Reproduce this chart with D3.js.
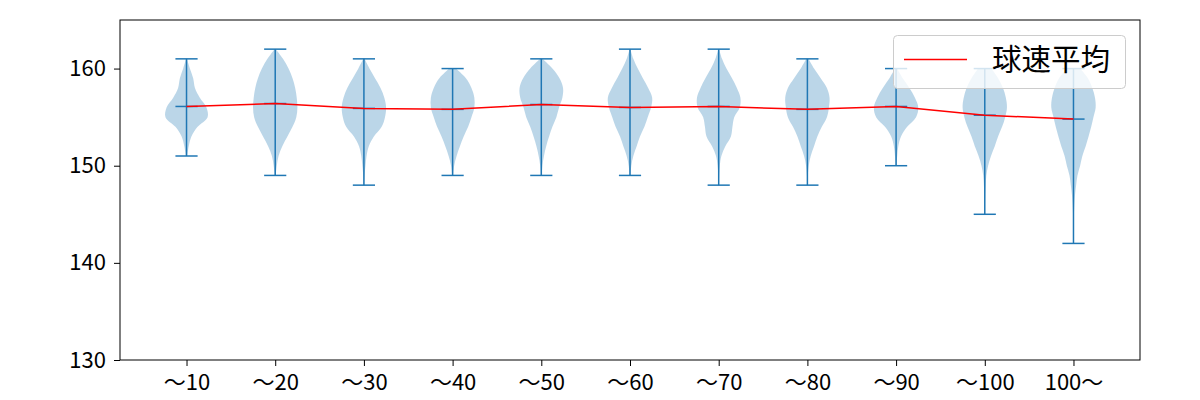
<!DOCTYPE html>
<html>
<head>
<meta charset="utf-8">
<script src="https://cdn.jsdelivr.net/npm/d3@7"></script>
<style>
  html, body { margin: 0; padding: 0; background: #fff; }
  svg { display: block; }
  text { font-family: "Noto Sans CJK JP", "Noto Sans", sans-serif; }
</style>
</head>
<body>
<svg id="chart" width="1200" height="400"></svg>
<script>
// ---- data ----
const categories = ["〜10", "〜20", "〜30", "〜40", "〜50", "〜60", "〜70", "〜80", "〜90", "〜100", "100〜"];
const mins  = [151, 149, 148, 149, 149, 149, 148, 148, 150, 145, 142];
const maxs  = [161, 162, 161, 160, 161, 162, 162, 161, 160, 160, 160];
const means = [156.1, 156.4, 155.9, 155.8, 156.3, 156.0, 156.1, 155.8, 156.1, 155.2, 154.8];
// relative density profile of each violin, at every 1 km/h from min (first) to max (last)
const density10  = [0.03, 0.1, 0.22, 0.5, 0.95, 0.9, 0.6, 0.38, 0.3, 0.15, 0.02];
const density20  = [0.02, 0.07, 0.15, 0.32, 0.55, 0.78, 0.95, 1.0, 0.97, 0.9, 0.78, 0.6, 0.35, 0.03];
const density30  = [0.01, 0.03, 0.07, 0.12, 0.22, 0.45, 0.8, 0.95, 1.0, 0.92, 0.75, 0.5, 0.25, 0.03];
const density40  = [0.02, 0.07, 0.18, 0.33, 0.5, 0.7, 0.85, 0.98, 0.98, 0.85, 0.6, 0.15];
const density50  = [0.02, 0.05, 0.12, 0.22, 0.35, 0.5, 0.68, 0.8, 0.95, 0.98, 0.82, 0.5, 0.05];
const density60  = [0.02, 0.06, 0.15, 0.3, 0.45, 0.65, 0.8, 0.95, 1.0, 0.82, 0.58, 0.35, 0.15, 0.02];
const density70  = [0.01, 0.02, 0.05, 0.12, 0.3, 0.55, 0.62, 0.7, 0.95, 0.98, 0.82, 0.6, 0.35, 0.15, 0.02];
const density80  = [0.01, 0.02, 0.06, 0.15, 0.3, 0.45, 0.65, 0.88, 0.97, 1.0, 0.88, 0.6, 0.3, 0.05];
const density90  = [0.02, 0.05, 0.1, 0.22, 0.5, 0.9, 1.0, 0.85, 0.6, 0.3, 0.05];
const density100 = [0.005, 0.01, 0.02, 0.04, 0.07, 0.15, 0.28, 0.45, 0.6, 0.78, 0.92, 1.0, 0.95, 0.82, 0.6, 0.3];
const density101 = [0.002, 0.005, 0.01, 0.02, 0.04, 0.07, 0.12, 0.18, 0.3, 0.4, 0.55, 0.68, 0.8, 0.9, 1.0, 0.97, 0.85, 0.65, 0.3];
const densities = [density10, density20, density30, density40, density50, density60,
                   density70, density80, density90, density100, density101];
const yTicks = [130, 140, 150, 160];
const legendLabel = "球速平均";

// ---- layout ----
const svg = d3.select("#chart");
const plotLeft = 120, plotRight = 1140, plotTop = 20, plotBottom = 360;
const blue = "#1f77b4";

const x = d3.scaleLinear().domain([0.25, categories.length + 0.75]).range([plotLeft, plotRight]);
const y = d3.scaleLinear().domain([130, 165]).range([plotBottom, plotTop]);
const halfW = 0.25;  // violin half width in x units
const capW = 0.125;

// violins
const area = d3.area()
  .curve(d3.curveCatmullRom.alpha(0.5))
  .y(d => y(d.v));

categories.forEach((c, i) => {
  const pos = i + 1;
  const pts = densities[i].map((w, k) => ({ v: mins[i] + k, w }));
  svg.append("path")
    .datum(pts)
    .attr("d", area.x0(d => x(pos - d.w * halfW)).x1(d => x(pos + d.w * halfW)))
    .attr("fill", blue)
    .attr("fill-opacity", 0.3)
    .attr("stroke", "none");
});

// vertical lines, caps, means
const g = svg.append("g").attr("stroke", blue).attr("stroke-width", 1.5);
categories.forEach((c, i) => {
  const pos = i + 1;
  g.append("line").attr("x1", x(pos)).attr("x2", x(pos)).attr("y1", y(mins[i])).attr("y2", y(maxs[i]));
  [mins[i], maxs[i], means[i]].forEach(v => {
    g.append("line").attr("x1", x(pos - capW)).attr("x2", x(pos + capW)).attr("y1", y(v)).attr("y2", y(v));
  });
});

// mean line
svg.append("path")
  .datum(means)
  .attr("d", d3.line().x((d, i) => x(i + 1)).y(d => y(d)))
  .attr("fill", "none")
  .attr("stroke", "red")
  .attr("stroke-width", 1.5);

// axes
const yAxis = d3.axisLeft(y).tickValues(yTicks).tickSize(6).tickPadding(8).tickFormat(d3.format("d"));
const xAxis = d3.axisBottom(x).tickValues(categories.map((c, i) => i + 1)).tickSize(6).tickPadding(8)
  .tickFormat((d, i) => categories[i]);

const ya = svg.append("g").attr("transform", `translate(${plotLeft},0)`).call(yAxis);
const xa = svg.append("g").attr("transform", `translate(0,${plotBottom})`).call(xAxis);
[ya, xa].forEach(a => {
  a.select(".domain").remove();
  a.selectAll("line").attr("stroke", "#000").attr("stroke-width", 1);
  a.selectAll("text").attr("fill", "#000").style("font-size", "22px")
    .style("font-family", '"Noto Sans CJK JP", "Noto Sans", sans-serif');
});

// frame
svg.append("rect")
  .attr("x", plotLeft).attr("y", plotTop).attr("width", plotRight - plotLeft).attr("height", plotBottom - plotTop)
  .attr("fill", "none").attr("stroke", "#000").attr("stroke-width", 1);

// legend
const lg = svg.append("g");
lg.append("rect")
  .attr("x", 893.5).attr("y", 35.5).attr("width", 232).attr("height", 53)
  .attr("rx", 4).attr("ry", 4)
  .attr("fill", "#fff").attr("fill-opacity", 0.8)
  .attr("stroke", "#cccccc").attr("stroke-width", 1);
lg.append("line").attr("x1", 904).attr("x2", 967).attr("y1", 59.5).attr("y2", 59.5)
  .attr("stroke", "red").attr("stroke-width", 1.5);
lg.append("text").attr("x", 992).attr("y", 70).attr("fill", "#000")
  .style("font-size", "29.5px").text(legendLabel);
</script>
</body>
</html>
